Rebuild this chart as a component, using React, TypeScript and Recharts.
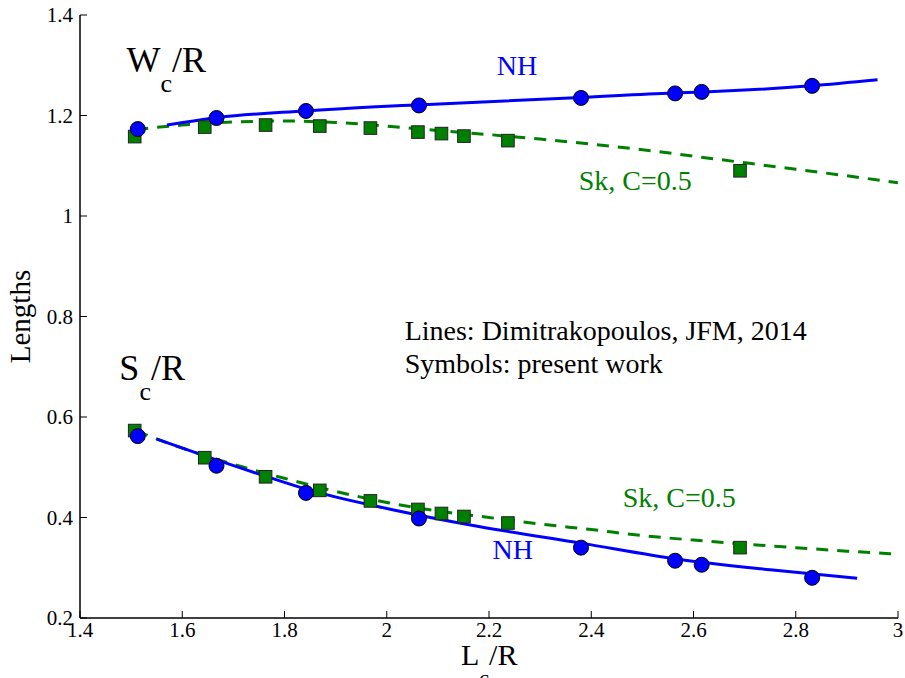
import {
  ComposedChart,
  Line,
  Scatter,
  XAxis,
  YAxis,
  ReferenceDot,
} from "recharts";

// marker data (present work)
const NH_X = [1.513, 1.667, 1.842, 2.063, 2.38, 2.564, 2.616, 2.832];
const NH_W = [1.173, 1.195, 1.209, 1.22, 1.235, 1.244, 1.247, 1.259];
const NH_S = [0.562, 0.503, 0.449, 0.398, 0.34, 0.314, 0.306, 0.28];

const SK_X = [1.507, 1.644, 1.763, 1.869, 1.968, 2.061, 2.107, 2.151, 2.237, 2.691];
const SK_W = [1.158, 1.177, 1.181, 1.179, 1.175, 1.167, 1.164, 1.159, 1.15, 1.09];
const SK_S = [0.573, 0.519, 0.481, 0.454, 0.433, 0.416, 0.408, 0.402, 0.389, 0.34];

// reference curves (Dimitrakopoulos, JFM, 2014)
const NH_W_LX = [1.57, 1.67, 1.84, 1.97, 2.06, 2.38, 2.56, 2.62, 2.83, 2.96];
const NH_W_LY = [1.181, 1.196, 1.209, 1.217, 1.221, 1.236, 1.245, 1.247, 1.259, 1.271];
const NH_S_LX = [1.55, 1.64, 1.76, 1.85, 2.0, 2.18, 2.38, 2.57, 2.75, 2.92];
const NH_S_LY = [0.556, 0.524, 0.483, 0.454, 0.418, 0.382, 0.349, 0.317, 0.296, 0.279];
const SK_LX = [1.51, 1.6, 1.7, 1.8, 1.9, 2.0, 2.1, 2.2, 2.3, 2.4, 2.5, 2.6, 2.7, 2.8, 2.9, 3.0];
const SK_W_LY = [1.172, 1.181, 1.187, 1.189, 1.186, 1.179, 1.17, 1.162, 1.153, 1.143, 1.132, 1.119, 1.106, 1.093, 1.08, 1.066];
const SK_S_LY = [0.572, 0.538, 0.506, 0.478, 0.452, 0.43, 0.413, 0.4, 0.387, 0.376, 0.364, 0.355, 0.347, 0.34, 0.333, 0.327];

const X_TICKS = [1.4, 1.6, 1.8, 2, 2.2, 2.4, 2.6, 2.8, 3];
const Y_TICKS = [0.2, 0.4, 0.6, 0.8, 1, 1.2, 1.4];

const zip = (xs: number[], ys: number[]) => xs.map((x, i) => ({ x, y: ys[i] }));

const FONT = "'Liberation Serif', 'Times New Roman', serif";
const BLUE = "#0000ff";
const GREEN = "#008000";
const TICK_LEN = 7;

function BottomTick({ x, y, payload }: any) {
  return (
    <g>
      <line x1={x} y1={y} x2={x} y2={y - TICK_LEN} stroke="#000" strokeWidth={1} />
      <text x={x} y={y + 19} textAnchor="middle" fontSize={21} fontFamily={FONT} fill="#000">
        {String(payload.value)}
      </text>
    </g>
  );
}

function LeftTick({ x, y, payload }: any) {
  return (
    <g>
      <line x1={x} y1={y} x2={x + TICK_LEN} y2={y} stroke="#000" strokeWidth={1} />
      <text x={x - 7} y={y + 7} textAnchor="end" fontSize={21} fontFamily={FONT} fill="#000">
        {String(payload.value)}
      </text>
    </g>
  );
}

function TopTick({ x, y }: any) {
  return <line x1={x} y1={y} x2={x} y2={y + TICK_LEN} stroke="#000" strokeWidth={1} />;
}

function RightTick({ x, y }: any) {
  return <line x1={x} y1={y} x2={x - TICK_LEN} y2={y} stroke="#000" strokeWidth={1} />;
}

function XLabel({ viewBox }: any) {
  const cx = viewBox.x + viewBox.width / 2;
  return (
    <text x={cx - 28} y={viewBox.y + 47} fontSize={30} fontFamily={FONT} fill="#000">
      L<tspan dy={20} fontSize={22}>c</tspan>
      <tspan dy={-20} fontSize={30}>/R</tspan>
    </text>
  );
}

function YLabel({ viewBox }: any) {
  const cx = viewBox.x + 30;
  const cy = viewBox.y + viewBox.height / 2;
  return (
    <text
      x={cx}
      y={cy}
      transform={`rotate(-90 ${cx} ${cy})`}
      textAnchor="middle"
      fontSize={29}
      fontFamily={FONT}
      fill="#000"
    >
      Lengths
    </text>
  );
}

const circle = (p: any) => (
  <circle cx={p.cx} cy={p.cy} r={7.5} fill={BLUE} stroke="#000" strokeWidth={1} />
);
const square = (p: any) => (
  <rect x={p.cx - 6.3} y={p.cy - 6.3} width={12.6} height={12.6} fill={GREEN} stroke="#222" strokeWidth={1} />
);

const txt = (text: string, color: string, size = 28) => (p: any) => (
  <text x={p.cx} y={p.cy} fontSize={size} fontFamily={FONT} fill={color}>
    {text}
  </text>
);

const sub = (main: string) => (p: any) => (
  <text x={p.cx} y={p.cy} fontSize={36} fontFamily={FONT} fill="#000">
    {main}
    <tspan dy={20} fontSize={26}>c</tspan>
    <tspan dy={-20} fontSize={36}>/R</tspan>
  </text>
);

export default function App() {
  return (
    <div style={{ position: "absolute", left: 0, top: 0, width: 905, height: 678, background: "#fff" }}>
      <ComposedChart width={905} height={678} margin={{ top: 15, right: 7, left: 0, bottom: 0 }}>
        <XAxis
          dataKey="x"
          type="number"
          domain={[1.4, 3]}
          ticks={X_TICKS}
          interval={0}
          allowDataOverflow
          height={60}
          tickSize={0}
          tickMargin={0}
          tickLine={false}
          tick={<BottomTick />}
          axisLine={{ stroke: "#000", strokeWidth: 1.5 }}
          label={<XLabel />}
        />
        <XAxis
          xAxisId="top"
          orientation="top"
          type="number"
          domain={[1.4, 3]}
          ticks={X_TICKS}
          interval={0}
          height={0}
          tickSize={0}
          tickMargin={0}
          tickLine={false}
          tick={<TopTick />}
          axisLine={{ stroke: "#000", strokeWidth: 1.5 }}
        />
        <YAxis
          dataKey="y"
          type="number"
          domain={[0.2, 1.4]}
          ticks={Y_TICKS}
          interval={0}
          allowDataOverflow
          width={80}
          tickSize={0}
          tickMargin={0}
          tickLine={false}
          tick={<LeftTick />}
          axisLine={{ stroke: "#000", strokeWidth: 1.5 }}
          label={<YLabel />}
        />
        <YAxis
          yAxisId="right"
          orientation="right"
          type="number"
          domain={[0.2, 1.4]}
          ticks={Y_TICKS}
          interval={0}
          width={0}
          tickSize={0}
          tickMargin={0}
          tickLine={false}
          tick={<RightTick />}
          axisLine={{ stroke: "#333", strokeWidth: 1.5 }}
        />

        <Line data={zip(SK_LX, SK_W_LY)} dataKey="y" type="monotone" stroke={GREEN} strokeWidth={3} strokeDasharray="12 9" dot={false} activeDot={false} isAnimationActive={false} />
        <Line data={zip(SK_LX, SK_S_LY)} dataKey="y" type="monotone" stroke={GREEN} strokeWidth={3} strokeDasharray="12 9" dot={false} activeDot={false} isAnimationActive={false} />
        <Line data={zip(NH_W_LX, NH_W_LY)} dataKey="y" type="monotone" stroke={BLUE} strokeWidth={3} dot={false} activeDot={false} isAnimationActive={false} />
        <Line data={zip(NH_S_LX, NH_S_LY)} dataKey="y" type="monotone" stroke={BLUE} strokeWidth={3} dot={false} activeDot={false} isAnimationActive={false} />

        <Scatter data={zip(SK_X, SK_W)} dataKey="y" shape={square} isAnimationActive={false} />
        <Scatter data={zip(SK_X, SK_S)} dataKey="y" shape={square} isAnimationActive={false} />
        <Scatter data={zip(NH_X, NH_W)} dataKey="y" shape={circle} isAnimationActive={false} />
        <Scatter data={zip(NH_X, NH_S)} dataKey="y" shape={circle} isAnimationActive={false} />

        <ReferenceDot x={1.491} y={1.287} shape={sub("W")} />
        <ReferenceDot x={1.477} y={0.6736} shape={sub("S")} />
        <ReferenceDot x={2.215} y={1.2806} shape={txt("NH", BLUE)} />
        <ReferenceDot x={2.3755} y={1.0517} shape={txt("Sk, C=0.5", GREEN)} />
        <ReferenceDot x={2.035} y={0.7532} shape={txt("Lines: Dimitrakopoulos, JFM, 2014", "#000")} />
        <ReferenceDot x={2.035} y={0.6876} shape={txt("Symbols: present work", "#000")} />
        <ReferenceDot x={2.4616} y={0.4215} shape={txt("Sk, C=0.5", GREEN)} />
        <ReferenceDot x={2.207} y={0.3174} shape={txt("NH", BLUE)} />
      </ComposedChart>
    </div>
  );
}
